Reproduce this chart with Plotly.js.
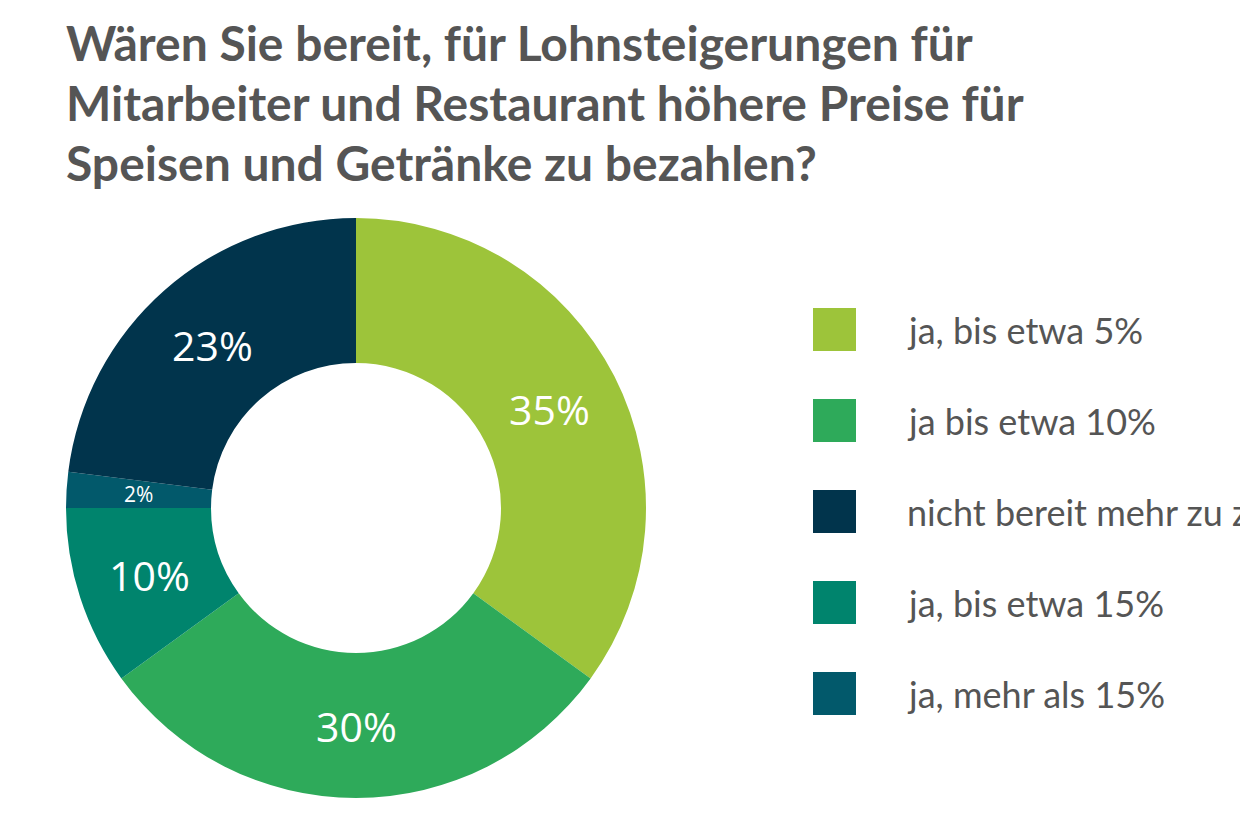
<!DOCTYPE html>
<html>
<head>
<meta charset="utf-8">
<script src="https://cdn.plot.ly/plotly-3.0.1.min.js"></script>
<style>
  html, body { margin: 0; padding: 0; background: #fff; }
  #chart { width: 1240px; height: 820px; }
</style>
</head>
<body>
<div id="chart"></div>
<script>
// slices in drawing order (clockwise from 12 o'clock)
var sliceLabels = ['ja, bis etwa 5%', 'ja bis etwa 10%', 'ja, bis etwa 15%', 'ja, mehr als 15%', 'nicht bereit mehr zu zahlen'];
var sliceValues = [35, 30, 10, 2, 23];
var sliceColors = ['#9dc43a', '#2eaa5a', '#00846d', '#02596b', '#01344c'];

// legend order as shown on the right
var legendOrder = [0, 1, 4, 2, 3];

var titleLines = [
  'Wären Sie bereit, für Lohnsteigerungen für',
  'Mitarbeiter und Restaurant höhere Preise für',
  'Speisen und Getränke zu bezahlen?'
];

var W = 1240, H = 820;
function px(x) { return x / W; }
function py(y) { return 1 - y / H; }

// donut geometry (pixels)
var cx = 356, cy = 508, rOuter = 290, holeFrac = 0.5;

var pieTrace = {
  type: 'pie',
  labels: sliceLabels,
  values: sliceValues,
  sort: false,
  direction: 'clockwise',
  rotation: 0,
  hole: holeFrac,
  marker: { colors: sliceColors, line: { width: 0 } },
  textinfo: 'none',
  showlegend: false,
  hoverinfo: 'label+percent',
  domain: { x: [px(cx - rOuter), px(cx + rOuter)], y: [py(cy + rOuter), py(cy - rOuter)] }
};

var annotations = [];
var shapes = [];

// percentage labels at the middle of each ring segment
var total = sliceValues.reduce(function(a, b) { return a + b; }, 0);
var rMid = rOuter * (1 + holeFrac) / 2;
var acc = 0;
sliceValues.forEach(function(v) {
  var mid = (acc + v / 2) / total * 2 * Math.PI;
  acc += v;
  annotations.push({
    text: Math.round(v / total * 100) + '%',
    xref: 'paper', yref: 'paper',
    x: px(cx + rMid * Math.sin(mid)), y: py(cy - rMid * Math.cos(mid)),
    xanchor: 'center', yanchor: 'middle',
    showarrow: false,
    font: { size: v < 5 ? 21 : 41, color: '#ffffff', family: '"Open Sans", sans-serif' }
  });
});

titleLines.forEach(function(line, i) {
  annotations.push({
    text: '<b>' + line + '</b>',
    xref: 'paper', yref: 'paper',
    x: px(64), y: py(73 + i * 60),
    xanchor: 'left', yanchor: 'bottom',
    showarrow: false,
    font: { size: 48, color: '#555555', family: 'Lato, sans-serif' }
  });
});

legendOrder.forEach(function(idx, i) {
  var top = 308 + i * 91;
  shapes.push({
    type: 'rect', xref: 'paper', yref: 'paper',
    x0: px(813), x1: px(856), y0: py(top + 43), y1: py(top),
    fillcolor: sliceColors[idx], line: { width: 0 }
  });
  annotations.push({
    text: sliceLabels[idx],
    xref: 'paper', yref: 'paper',
    x: px(905), y: py(top + 22),
    xanchor: 'left', yanchor: 'middle',
    showarrow: false,
    font: { size: 36, color: '#555555', family: 'Lato, sans-serif' }
  });
});

var layout = {
  width: W,
  height: H,
  margin: { t: 0, r: 0, b: 0, l: 0 },
  paper_bgcolor: '#ffffff',
  plot_bgcolor: '#ffffff',
  showlegend: false,
  annotations: annotations,
  shapes: shapes
};

Plotly.newPlot('chart', [pieTrace], layout, { displayModeBar: false, staticPlot: true });
</script>
</body>
</html>
